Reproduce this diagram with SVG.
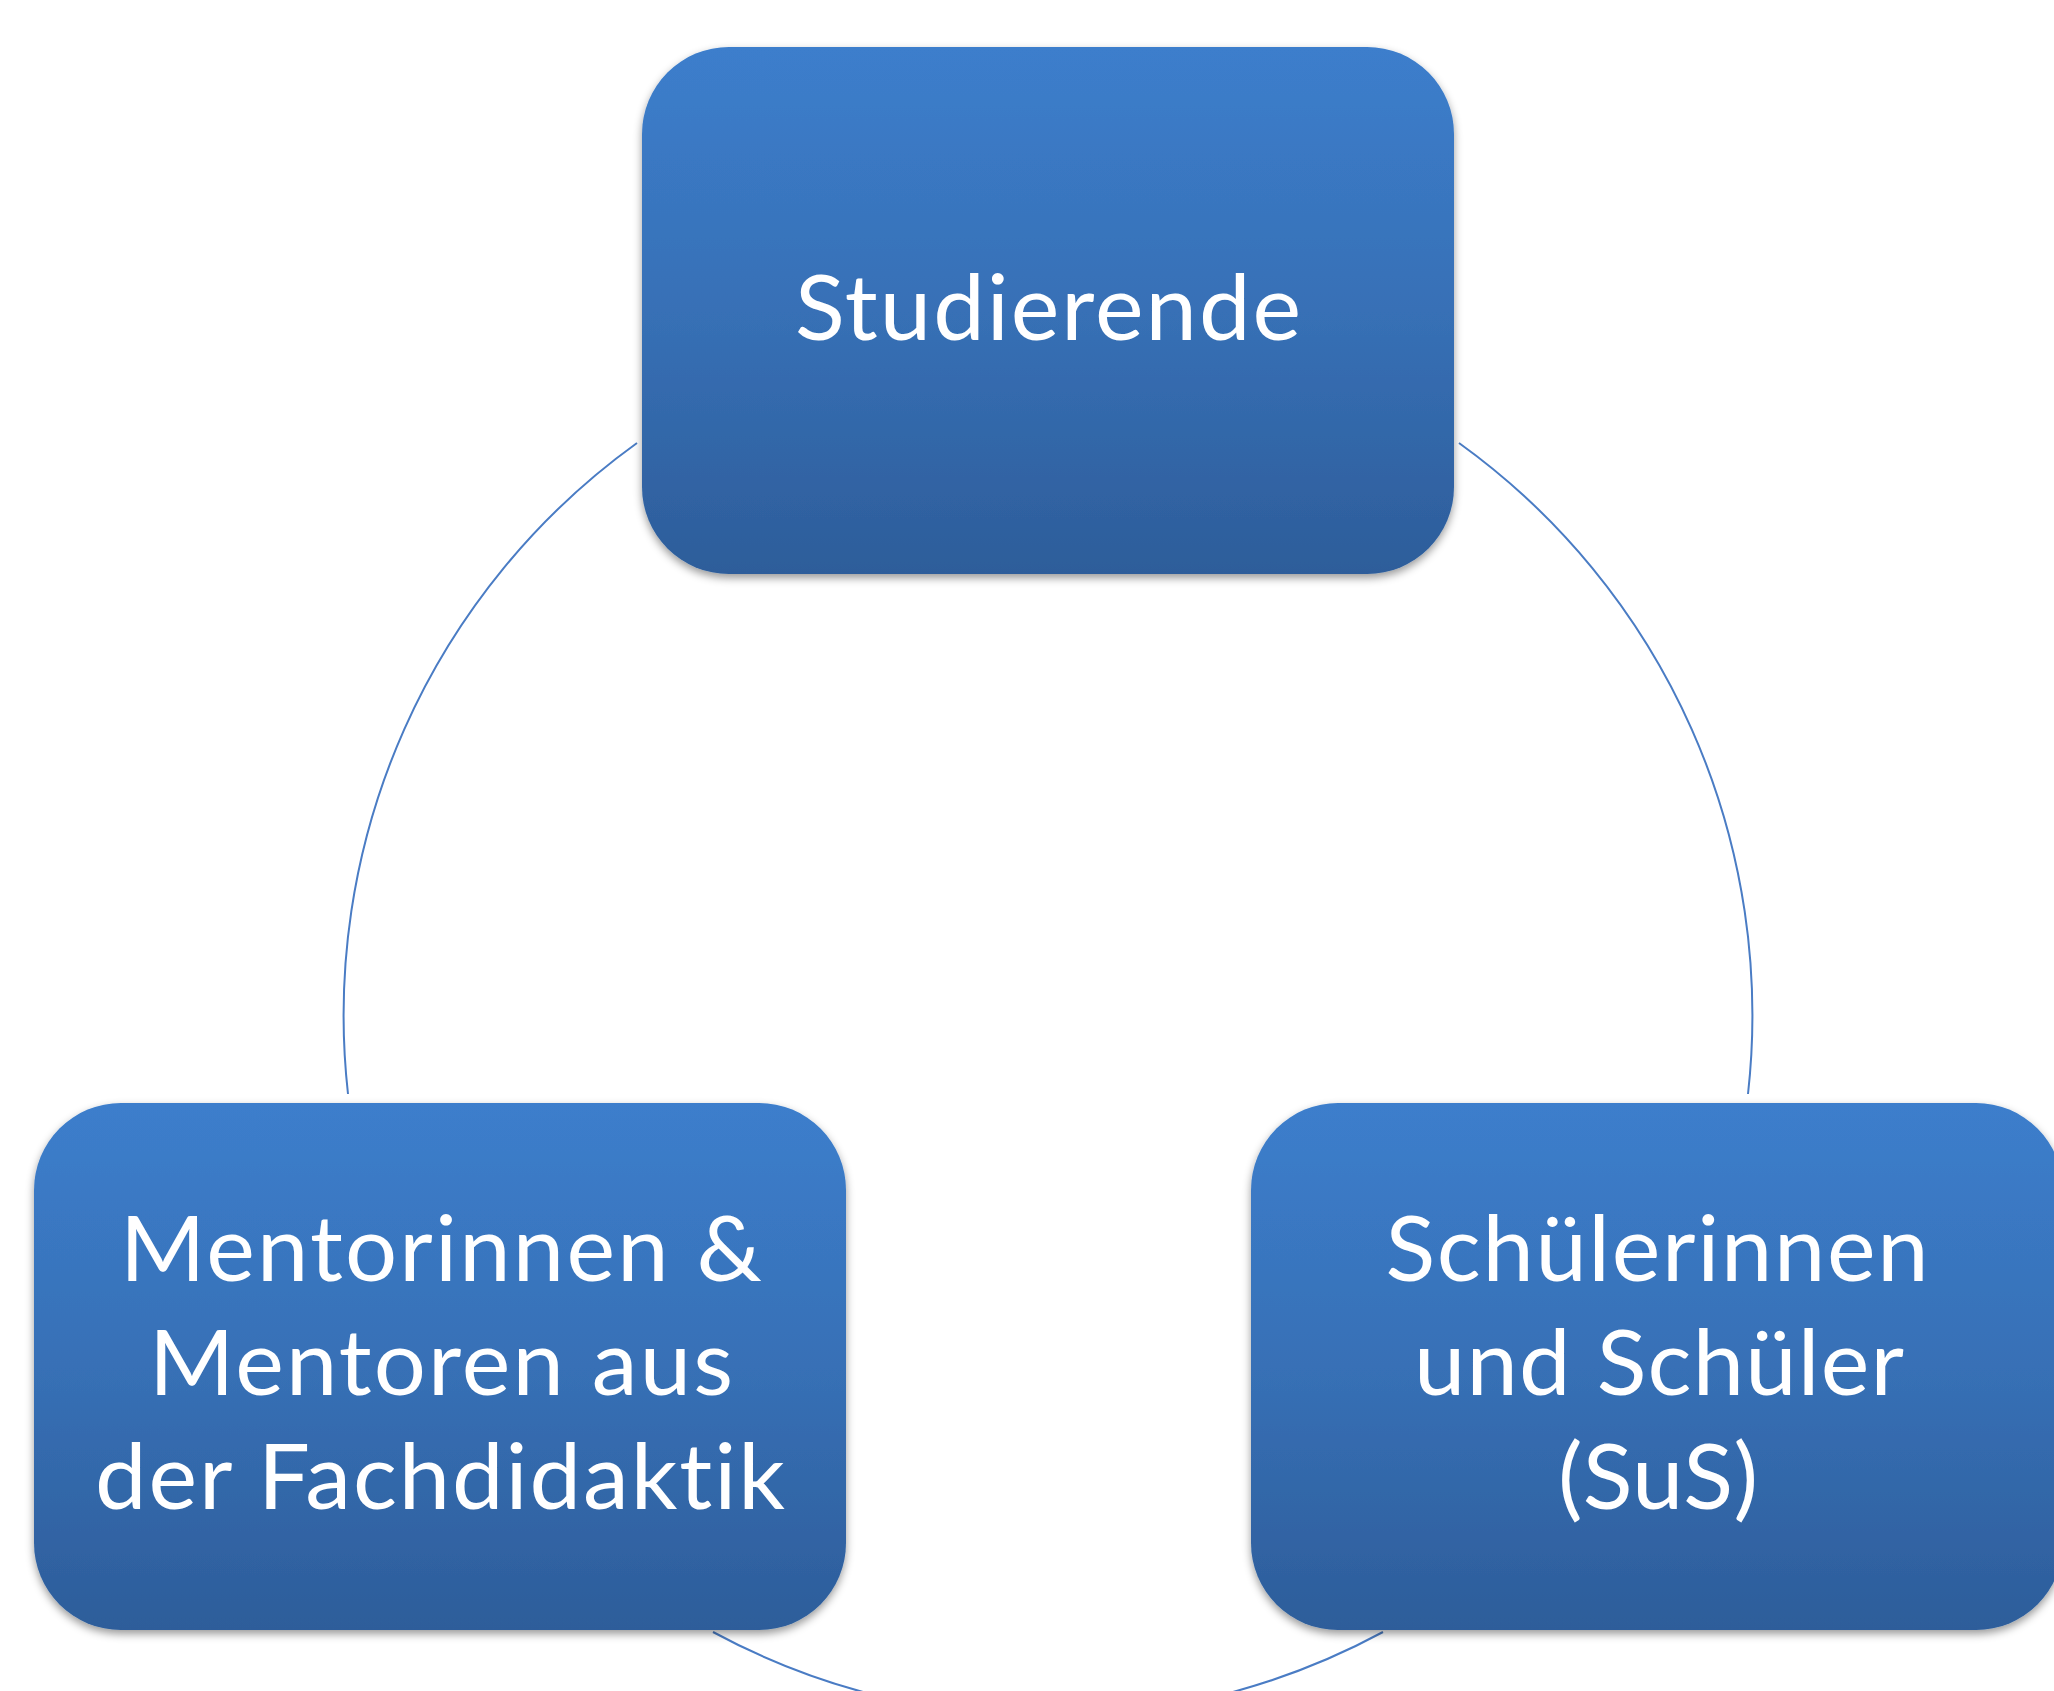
<svg xmlns="http://www.w3.org/2000/svg" width="2054" height="1691" viewBox="0 0 2054 1691">
  <style>
    .box { fill: url(#boxGrad); filter: url(#shadow); }
    .lbl { font-family: Lato, "Open Sans", "Liberation Sans", sans-serif; font-size: 92px; fill: #ffffff; text-anchor: middle; font-variant-ligatures: none; font-feature-settings: "liga" 0, "clig" 0; }
    .arc { fill: none; stroke: #4a7cc4; stroke-width: 2; }
  </style>
  <defs>
    <linearGradient id="boxGrad" x1="0" y1="0" x2="0" y2="1">
      <stop offset="0" stop-color="#3c7ecc"/>
      <stop offset="0.5" stop-color="#3770b6"/>
      <stop offset="1" stop-color="#2d5d9a"/>
    </linearGradient>
    <filter id="shadow" x="-10%" y="-10%" width="120%" height="125%">
      <feDropShadow dx="0" dy="4" stdDeviation="4" flood-color="#000000" flood-opacity="0.4"/>
    </filter>
  </defs>
  <rect width="2054" height="1691" fill="#ffffff"/>
  <g id="connectors">
    <path class="arc" d="M 637 443 A 705 705 0 0 0 348 1094"/>
    <path class="arc" d="M 1459 443 A 705 705 0 0 1 1748 1094"/>
    <path class="arc" d="M 713 1632 A 705 705 0 0 0 1383 1632"/>
  </g>
  <g id="node-studierende">
    <rect class="box" x="642" y="47" width="812" height="527" rx="87" ry="87"/>
    <text class="lbl" x="1048" y="340" textLength="506" lengthAdjust="spacing">Studierende</text>
  </g>
  <g id="node-mentoren">
    <rect class="box" x="34" y="1103" width="812" height="527" rx="87" ry="87"/>
    <text class="lbl" x="441" y="1281" textLength="642" lengthAdjust="spacing">Mentorinnen &amp;</text>
    <text class="lbl" x="441" y="1395" textLength="584" lengthAdjust="spacing">Mentoren aus</text>
    <text class="lbl" x="440" y="1509" textLength="690" lengthAdjust="spacing">der Fachdidaktik</text>
  </g>
  <g id="node-schueler">
    <rect class="box" x="1251" y="1103" width="812" height="527" rx="87" ry="87"/>
    <text class="lbl" x="1657" y="1281" textLength="543" lengthAdjust="spacing">Schülerinnen</text>
    <text class="lbl" x="1659" y="1395" textLength="490" lengthAdjust="spacing">und Schüler</text>
    <text class="lbl" x="1658" y="1509" textLength="200" lengthAdjust="spacing">(SuS)</text>
  </g>
</svg>
